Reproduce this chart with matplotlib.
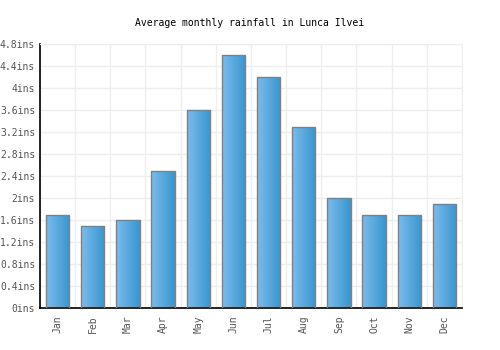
import matplotlib
matplotlib.use("Agg")
import matplotlib.pyplot as plt
import numpy as np
from matplotlib.colors import LinearSegmentedColormap

months = ["Jan", "Feb", "Mar", "Apr", "May", "Jun", "Jul", "Aug", "Sep", "Oct", "Nov", "Dec"]
rainfall = [1.7, 1.5, 1.6, 2.5, 3.6, 4.6, 4.2, 3.3, 2.0, 1.7, 1.7, 1.9]
yticks = [0, 0.4, 0.8, 1.2, 1.6, 2, 2.4, 2.8, 3.2, 3.6, 4, 4.4, 4.8]
ytick_labels = ["0ins", "0.4ins", "0.8ins", "1.2ins", "1.6ins", "2ins", "2.4ins",
                "2.8ins", "3.2ins", "3.6ins", "4ins", "4.4ins", "4.8ins"]

plt.rcParams['font.family'] = ['DejaVu Sans Mono']

fig = plt.figure(figsize=(5, 3.5), dpi=100)
ax = fig.add_axes([0.08, 0.12, 0.844, 0.754])

x = np.arange(len(months))
bars = ax.bar(x, rainfall, width=0.66, color="none", edgecolor="#808080", linewidth=1, zorder=3)

# gradient fill for each bar
cmap = LinearSegmentedColormap.from_list("blu", ["#7cbbeb", "#3896d0"])
grad = np.linspace(0, 1, 64).reshape(1, -1)
for b in bars:
    bx, by = b.get_x(), b.get_y()
    w, h = b.get_width(), b.get_height()
    im = ax.imshow(grad, cmap=cmap, aspect="auto", extent=[bx, bx + w, by, by + h], zorder=2)
    im.set_clip_path(b)

ax.set_xlim(-0.5, len(months) - 0.5)
ax.set_ylim(0, 4.8)
ax.set_xticks(x)
ax.set_xticklabels(months, rotation=90, fontsize=7, color="#555555")
ax.set_yticks(yticks)
ax.set_yticklabels(ytick_labels, fontsize=7, color="#555555")
ax.set_xticks(np.arange(-0.5, len(months), 1), minor=True)
ax.tick_params(axis="both", which="both", length=0, pad=5)
ax.tick_params(axis="y", pad=3.5)
ax.grid(True, which="minor", axis="x", color="#eeeeee", linewidth=1, zorder=0)
ax.grid(True, which="major", axis="y", color="#eeeeee", linewidth=1, zorder=0)

for s in ["top", "right"]:
    ax.spines[s].set_color("#eeeeee")
for s in ["left", "bottom"]:
    ax.spines[s].set_color("black")
    ax.spines[s].set_linewidth(1.2)

fig.suptitle("Average monthly rainfall in Lunca Ilvei", fontsize=7, y=0.95)
fig.savefig("out.png", dpi=100)
